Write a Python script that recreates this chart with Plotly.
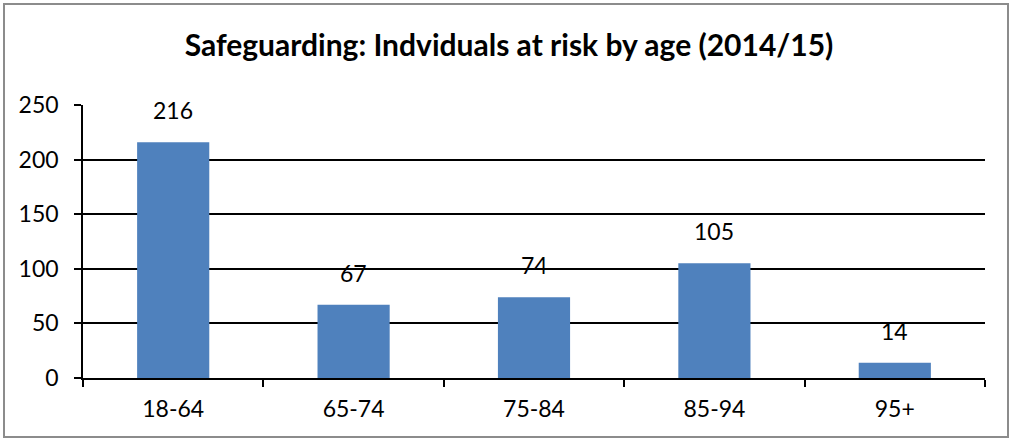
import plotly.graph_objects as go

# Age bands and number of individuals at risk
age_bands = ["18-64", "65-74", "75-84", "85-94", "95+"]
individuals = [216, 67, 74, 105, 14]
y_ticks = [0, 50, 100, 150, 200, 250]

W, H = 1013, 441
ML, MR, MT, MB = 83, 28, 105, 63
PW, PH = W - ML - MR, H - MT - MB

FONT = "Lato"

fig = go.Figure()
fig.add_trace(go.Bar(
    x=age_bands,
    y=individuals,
    marker=dict(color="#4F81BD", line=dict(width=0)),
    width=0.4,
    hoverinfo="x+y",
))

# Value labels above each bar
for band, val in zip(age_bands, individuals):
    fig.add_annotation(
        x=band, y=val, text=str(val), showarrow=False,
        yanchor="bottom", yshift=16,
        font=dict(family=FONT, size=23, color="#000000"),
    )

# Outer chart frame
def px_x(p):
    return (p - ML) / PW

def px_y(p):
    return (H - MB - p) / PH

fig.add_shape(
    type="rect", xref="paper", yref="paper",
    x0=px_x(4), x1=px_x(1008), y0=px_y(437), y1=px_y(4),
    line=dict(color="#8C8C8C", width=2), fillcolor="rgba(0,0,0,0)",
    layer="below",
)

fig.update_layout(
    width=W, height=H,
    margin=dict(l=ML, r=MR, t=MT, b=MB, pad=0),
    paper_bgcolor="#FFFFFF",
    plot_bgcolor="#FFFFFF",
    showlegend=False,
    bargap=0.6,
    title=dict(
        text="<b>Safeguarding: Indviduals at risk by age (2014/15)</b>",
        x=509 / W, xref="container", xanchor="center",
        y=1 - 45 / H, yref="container", yanchor="middle",
        font=dict(family=FONT, size=30, color="#000000"),
    ),
    font=dict(family=FONT, size=23, color="#000000"),
)

fig.update_xaxes(
    type="category",
    showline=True, linecolor="#000000", linewidth=2,
    ticks="outside", tickson="boundaries", ticklen=7, tickwidth=1.5,
    tickcolor="#000000",
    showgrid=False,
    ticklabelstandoff=9,
    tickfont=dict(family=FONT, size=23, color="#000000"),
)

fig.update_yaxes(
    range=[0, 250],
    tickvals=y_ticks,
    showline=True, linecolor="#000000", linewidth=1.5,
    ticks="outside", ticklen=7, tickwidth=1.5, tickcolor="#000000",
    showgrid=True, gridcolor="#000000", gridwidth=1.5,
    zeroline=False,
    ticklabelstandoff=11,
    tickfont=dict(family=FONT, size=23, color="#000000"),
)

fig.write_html("out.html")
